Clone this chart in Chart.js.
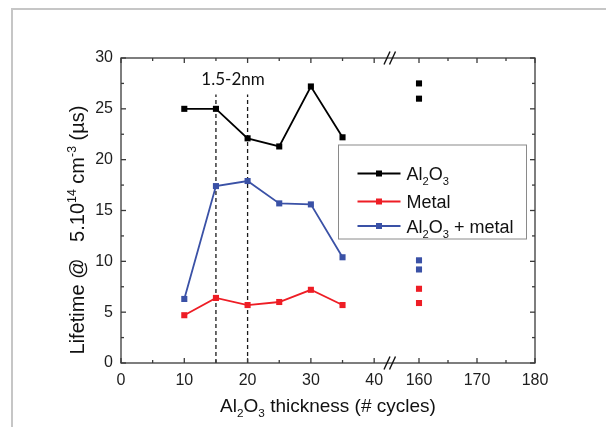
<!DOCTYPE html>
<html>
<head>
<meta charset="utf-8">
<script src="https://cdn.jsdelivr.net/npm/chart.js@4.4.1/dist/chart.umd.min.js"></script>
<style>
    html, body { margin: 0; padding: 0; background: #fff; }
    #wrap { width: 606px; height: 427px; }
</style>
</head>
<body>
<div id="wrap"><canvas id="myChart" width="606" height="427"></canvas></div>
<script>
// values
const cycles = [10, 15, 20, 25, 30, 35];
const al2o3 = [25.0, 25.0, 22.1, 21.3, 27.2, 22.2];
const metal = [4.7, 6.4, 5.7, 6.0, 7.2, 5.7];
const al2o3Metal = [6.3, 17.4, 17.9, 15.7, 15.6, 10.4];

const thickCycles = [160, 160];
const al2o3Thick = [27.5, 26.0];
const metalThick = [7.3, 5.9];
const al2o3MetalThick = [10.1, 9.2];

// axis ticks (broken x axis: 0-42.5 | 155-180)
const leftTicks = [0, 10, 20, 30, 40];
const leftMinor = [5, 15, 25, 35];
const rightTicks = [160, 170, 180];
const rightMinor = [165, 175];
const yTicks = [0, 5, 10, 15, 20, 25, 30];
const yMinor = [2.5, 7.5, 12.5, 17.5, 22.5, 27.5];

// dashed guides at 1.5-2nm
const guideCycles = [15, 20];
const guideTop = 26.4;
const guideLabel = '1.5-2nm';
const guideLabelPos = [17.7, 27.9];

const BLACK = '#000000';
const RED = '#ee1d25';
const BLUE = '#3a51a6';
const FONT = '"Liberation Sans", Arial, sans-serif';

function pts(xs, ys) {
    return xs.map((x, i) => ({ x: x, y: ys[i] }));
}

function series(data, color, axis, line) {
    return {
        data: data,
        xAxisID: axis,
        yAxisID: 'y',
        borderColor: color,
        backgroundColor: color,
        borderWidth: 1.8,
        showLine: line,
        tension: 0,
        pointStyle: 'rect',
        pointRadius: 4.3,
        pointBorderWidth: 0,
        pointBackgroundColor: color
    };
}

const guides = guideCycles.map(g => ({
    data: [{ x: g, y: 0 }, { x: g, y: guideTop }],
    xAxisID: 'x',
    yAxisID: 'y',
    borderColor: '#1a1a1a',
    borderWidth: 1.3,
    borderDash: [4, 3],
    pointRadius: 0,
    showLine: true
}));

// text pieces with sub / superscripts
function richWidth(ctx, parts, size) {
    let w = 0;
    parts.forEach(p => {
        const s = p.sub || p.sup ? size * 0.62 : size;
        ctx.font = s + 'px ' + FONT;
        w += ctx.measureText(p.t).width;
    });
    return w;
}

function drawRich(ctx, parts, x, y, size) {
    parts.forEach(p => {
        const s = p.sub || p.sup ? size * 0.62 : size;
        let dy = 0;
        if (p.sub) dy = size * 0.3;
        if (p.sup) dy = -size * 0.42;
        ctx.font = s + 'px ' + FONT;
        ctx.fillText(p.t, x, y + dy);
        x += ctx.measureText(p.t).width;
    });
}

const al2o3Text = [{ t: 'Al' }, { t: '2', sub: true }, { t: 'O' }, { t: '3', sub: true }];
const legendItems = [
    { color: BLACK, parts: al2o3Text },
    { color: RED, parts: [{ t: 'Metal' }] },
    { color: BLUE, parts: al2o3Text.concat([{ t: ' + metal' }]) }
];
const xTitle = al2o3Text.concat([{ t: ' thickness (# cycles)' }]);
const yTitle = [{ t: 'Lifetime @   5.10' }, { t: '14', sup: true }, { t: ' cm' }, { t: '-3', sup: true }, { t: ' (\u00b5s)' }];

const framePlugin = {
    id: 'frame',
    beforeDraw(chart) {
        const ctx = chart.ctx;
        ctx.save();
        ctx.fillStyle = '#fff';
        ctx.fillRect(0, 0, chart.width, chart.height);
        ctx.strokeStyle = '#c6c6c6';
        ctx.lineWidth = 2;
        ctx.beginPath();
        ctx.moveTo(12, chart.height);
        ctx.lineTo(12, 9);
        ctx.lineTo(chart.width, 9);
        ctx.stroke();
        ctx.restore();
    },
    afterDraw(chart) {
        const ctx = chart.ctx;
        const a = chart.chartArea;
        const xl = chart.scales.x, xr = chart.scales.x2, y = chart.scales.y;
        ctx.save();
        ctx.strokeStyle = '#3a3a3a';
        ctx.lineWidth = 1.3;
        ctx.strokeRect(a.left, a.top, a.right - a.left, a.bottom - a.top);

        const line = (x1, y1, x2, y2) => {
            ctx.beginPath();
            ctx.moveTo(x1, y1);
            ctx.lineTo(x2, y2);
            ctx.stroke();
        };
        const xTick = (scale, v, len) => {
            const px = scale.getPixelForValue(v);
            line(px, a.bottom, px, a.bottom - len);
            line(px, a.top, px, a.top + len);
        };
        const yTick = (v, len) => {
            const py = y.getPixelForValue(v);
            line(a.left, py, a.left + len, py);
            line(a.right, py, a.right - len, py);
        };
        leftTicks.forEach(v => xTick(xl, v, 5));
        leftMinor.forEach(v => xTick(xl, v, 3));
        rightTicks.forEach(v => xTick(xr, v, 5));
        rightMinor.forEach(v => xTick(xr, v, 3));
        yTicks.forEach(v => yTick(v, 5));
        yMinor.forEach(v => yTick(v, 3));

        // axis break marks
        const bx = xl.right;
        ctx.strokeStyle = '#111';
        ctx.lineWidth = 1.4;
        [a.top, a.bottom].forEach(yy => {
            [-3, 2.5].forEach(o => line(bx + o - 3, yy + 6.5, bx + o + 3, yy - 6.5));
        });

        // guide label
        ctx.fillStyle = '#111';
        ctx.font = '17px Lato, ' + FONT;
        ctx.textAlign = 'center';
        ctx.textBaseline = 'middle';
        ctx.fillText(guideLabel, xl.getPixelForValue(guideLabelPos[0]), y.getPixelForValue(guideLabelPos[1]));

        // legend
        ctx.textAlign = 'left';
        ctx.textBaseline = 'alphabetic';
        const lx = a.right - 196.5, ly = a.top + 87;
        ctx.strokeStyle = '#8a8a8a';
        ctx.lineWidth = 1;
        ctx.fillStyle = '#fff';
        ctx.fillRect(lx, ly, 188, 94);
        ctx.strokeRect(lx, ly, 188, 94);
        const rows = [28.5, 56.5, 81];
        legendItems.forEach((it, i) => {
            const ry = ly + rows[i];
            ctx.strokeStyle = it.color;
            ctx.lineWidth = 1.8;
            line(lx + 19, ry, lx + 62, ry);
            ctx.fillStyle = it.color;
            ctx.fillRect(lx + 40.5 - 3, ry - 3, 6, 6);
            ctx.fillStyle = '#111';
            drawRich(ctx, it.parts, lx + 68, ry + 6.5, 18);
        });

        // axis titles
        ctx.fillStyle = '#111';
        const xw = richWidth(ctx, xTitle, 19);
        drawRich(ctx, xTitle, 328 - xw / 2, 411.5, 19);
        const yw = richWidth(ctx, yTitle, 20);
        ctx.translate(84, 230);
        ctx.rotate(-Math.PI / 2);
        drawRich(ctx, yTitle, -yw / 2, 0, 20);
        ctx.restore();
    }
};

const tickStyle = { font: { family: FONT, size: 16 }, color: '#1e1e1e', autoSkip: false, maxRotation: 0 };

const ctx = document.getElementById('myChart').getContext('2d');
const chart = new Chart(ctx, {
    type: 'scatter',
    data: {
        datasets: [
            series(pts(cycles, al2o3), BLACK, 'x', true),
            series(pts(cycles, metal), RED, 'x', true),
            series(pts(cycles, al2o3Metal), BLUE, 'x', true),
            series(pts(thickCycles, al2o3Thick), BLACK, 'x2', false),
            series(pts(thickCycles, metalThick), RED, 'x2', false),
            series(pts(thickCycles, al2o3MetalThick), BLUE, 'x2', false)
        ].concat(guides)
    },
    options: {
        responsive: false,
        animation: false,
        layout: { padding: { top: 58, right: 71, bottom: 0, left: 0 } },
        plugins: {
            legend: { display: false },
            tooltip: { enabled: false }
        },
        scales: {
            x: {
                type: 'linear',
                position: 'bottom',
                stack: 'bottom',
                stackWeight: 269,
                min: 0,
                max: 42.5,
                grid: { display: false, drawTicks: false },
                border: { display: false },
                ticks: Object.assign({ padding: 8 }, tickStyle),
                afterBuildTicks: s => { s.ticks = leftTicks.map(v => ({ value: v })); },
                afterFit: s => { s.height = 64; }
            },
            x2: {
                type: 'linear',
                position: 'bottom',
                stack: 'bottom',
                stackWeight: 145,
                min: 155,
                max: 180,
                grid: { display: false, drawTicks: false },
                border: { display: false },
                ticks: Object.assign({ padding: 8 }, tickStyle),
                afterBuildTicks: s => { s.ticks = rightTicks.map(v => ({ value: v })); },
                afterFit: s => { s.height = 64; }
            },
            y: {
                type: 'linear',
                position: 'left',
                min: 0,
                max: 30,
                grid: { display: false, drawTicks: false },
                border: { display: false },
                ticks: Object.assign({ padding: 8 }, tickStyle),
                afterBuildTicks: s => { s.ticks = yTicks.map(v => ({ value: v })); },
                afterFit: s => { s.width = 121; }
            }
        }
    },
    plugins: [framePlugin]
});
</script>
</body>
</html>
